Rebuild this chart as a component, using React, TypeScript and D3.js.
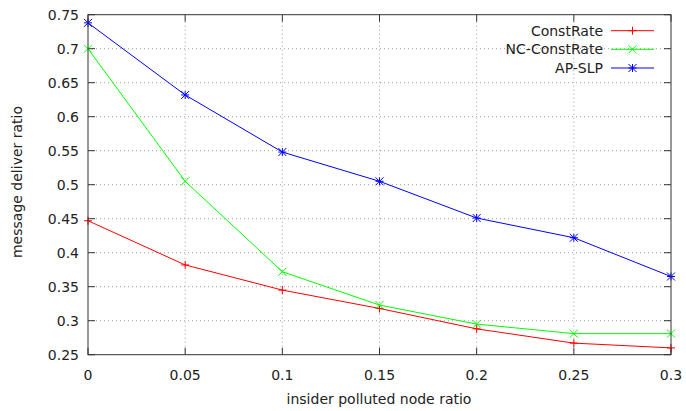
import React from "react";
import * as d3 from "d3";

const xValues = [0, 0.05, 0.1, 0.15, 0.2, 0.25, 0.3];
const constRate = [0.447, 0.382, 0.345, 0.318, 0.288, 0.267, 0.26];
const ncConstRate = [0.7, 0.505, 0.372, 0.323, 0.295, 0.281, 0.281];
const apSlp = [0.738, 0.632, 0.548, 0.505, 0.451, 0.422, 0.365];

const xTicks = [0, 0.05, 0.1, 0.15, 0.2, 0.25, 0.3];
const yTicks = [0.25, 0.3, 0.35, 0.4, 0.45, 0.5, 0.55, 0.6, 0.65, 0.7, 0.75];

const seriesNames = ["ConstRate", "NC-ConstRate", "AP-SLP"];
const seriesColors = ["#ff0000", "#00ff00", "#0000ff"];
const seriesMarkers = ["plus", "cross", "star"];

const W = 686;
const H = 411;
const margin = { left: 88, right: 15, top: 14.7, bottom: 56.3 };
const FONT = "DejaVu Sans, sans-serif";
const FS = 14;

function Marker({ x, y, type, color }: { x: number; y: number; type: string; color: string }) {
  const s = 4;
  const plus = (
    <>
      <line x1={x - s} x2={x + s} y1={y} y2={y} />
      <line x1={x} x2={x} y1={y - s} y2={y + s} />
    </>
  );
  const cross = (
    <>
      <line x1={x - s} x2={x + s} y1={y - s} y2={y + s} />
      <line x1={x - s} x2={x + s} y1={y + s} y2={y - s} />
    </>
  );
  return (
    <g stroke={color} strokeWidth={1}>
      {type === "plus" && plus}
      {type === "cross" && cross}
      {type === "star" && (
        <>
          {plus}
          {cross}
        </>
      )}
    </g>
  );
}

export default function App() {
  const x = d3.scaleLinear().domain([0, 0.3]).range([margin.left, W - margin.right]);
  const y = d3.scaleLinear().domain([0.25, 0.75]).range([H - margin.bottom, margin.top]);
  const data = [constRate, ncConstRate, apSlp];
  const line = d3
    .line<[number, number]>()
    .x((d) => x(d[0]))
    .y((d) => y(d[1]));

  const x0 = x.range()[0];
  const x1 = x.range()[1];
  const y0 = y.range()[0];
  const y1 = y.range()[1];
  const tickLen = 7;

  // legend geometry
  const legTextX = 603;
  const legLineX1 = 611;
  const legLineX2 = 654;
  const legRows = [30.7, 49.3, 68];

  return (
    <svg width={W} height={H} style={{ position: "absolute", left: 0, top: 0, background: "#fff" }}>
      {/* grid */}
      <g stroke="#a0a0a0" strokeWidth={1} strokeDasharray="1,3">
        {yTicks.slice(1, -1).map((t) => (
          <line key={"gy" + t} x1={x0} x2={x1} y1={y(t)} y2={y(t)} />
        ))}
        {xTicks.slice(1, -1).map((t) => (
          <line key={"gx" + t} x1={x(t)} x2={x(t)} y1={y0} y2={y1} />
        ))}
      </g>
      {/* ticks */}
      <g stroke="#333" strokeWidth={1}>
        {yTicks.map((t) => (
          <g key={"ty" + t}>
            <line x1={x0} x2={x0 + tickLen} y1={y(t)} y2={y(t)} />
            <line x1={x1} x2={x1 - tickLen} y1={y(t)} y2={y(t)} />
          </g>
        ))}
        {xTicks.map((t) => (
          <g key={"tx" + t}>
            <line x1={x(t)} x2={x(t)} y1={y0} y2={y0 - tickLen} />
            <line x1={x(t)} x2={x(t)} y1={y1} y2={y1 + tickLen} />
          </g>
        ))}
      </g>
      {/* tick labels */}
      <g fontFamily={FONT} fontSize={FS} fill="#222">
        {yTicks.map((t) => (
          <text key={"ly" + t} x={x0 - 9} y={y(t)} dy="0.36em" textAnchor="end">
            {String(t)}
          </text>
        ))}
        {xTicks.map((t) => (
          <text key={"lx" + t} x={x(t)} y={y0 + 24.8} textAnchor="middle">
            {String(t)}
          </text>
        ))}
      </g>
      {/* axis titles */}
      <text x={(x0 + x1) / 2 - 0.5} y={404} textAnchor="middle" fontFamily={FONT} fontSize={FS} fill="#222">
        insider polluted node ratio
      </text>
      <text
        transform={`translate(22,182) rotate(-90)`}
        textAnchor="middle"
        fontFamily={FONT}
        fontSize={FS}
        fill="#222"
      >
        message deliver ratio
      </text>
      {/* series */}
      {data.map((vals, i) => (
        <g key={"s" + i}>
          <path
            d={line(vals.map((v, j) => [xValues[j], v]) as [number, number][]) || ""}
            fill="none"
            stroke={seriesColors[i]}
            strokeWidth={1}
          />
          {vals.map((v, j) => (
            <Marker key={j} x={x(xValues[j])} y={y(v)} type={seriesMarkers[i]} color={seriesColors[i]} />
          ))}
        </g>
      ))}
      {/* legend */}
      {seriesNames.map((name, i) => (
        <g key={"leg" + i}>
          <text x={legTextX} y={legRows[i]} dy="0.36em" textAnchor="end" fontFamily={FONT} fontSize={FS} fill="#222">
            {name}
          </text>
          <line x1={legLineX1} x2={legLineX2} y1={legRows[i]} y2={legRows[i]} stroke={seriesColors[i]} strokeWidth={1} />
          <Marker x={(legLineX1 + legLineX2) / 2} y={legRows[i]} type={seriesMarkers[i]} color={seriesColors[i]} />
        </g>
      ))}
      {/* border */}
      <rect x={x0} y={y1} width={x1 - x0} height={y0 - y1} fill="none" stroke="#333" strokeWidth={1} />
    </svg>
  );
}
